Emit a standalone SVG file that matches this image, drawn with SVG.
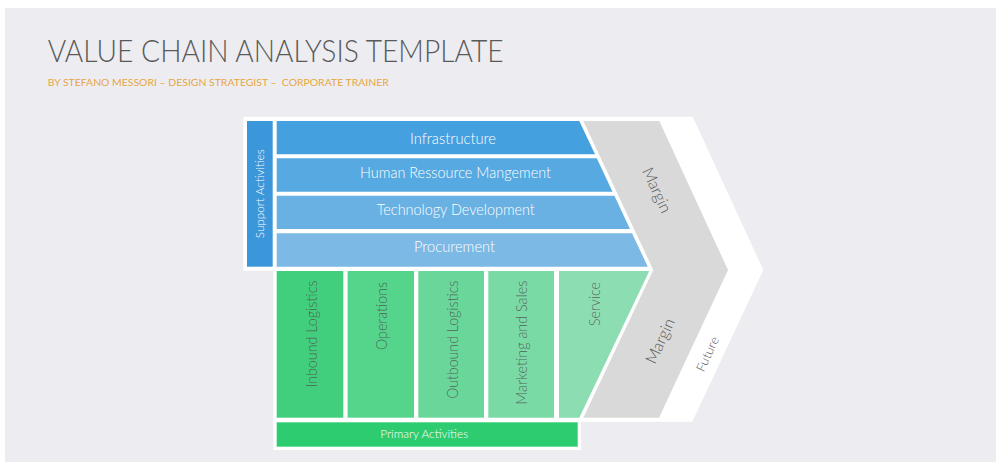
<svg xmlns="http://www.w3.org/2000/svg" width="996" height="462" viewBox="0 0 996 462">
  <style>
    .lbl { font-family: "Lato", "Open Sans", "Liberation Sans", sans-serif; font-weight: 300; }
    .sub { font-weight: 400; }
    .w { fill: #ffffff; }
    .bar { fill: #ffffff; font-size: 15px; text-anchor: middle; }
    .col { fill: #4F4F4F; fill-opacity: 0.85; font-size: 16px; text-anchor: end; }
    .mrg { fill: #595959; text-anchor: middle; }
  </style>

  <!-- page -->
  <rect x="0" y="0" width="996" height="462" fill="#ffffff"/>
  <rect x="5" y="8" width="991" height="454" fill="#EDEDF1"/>

  <!-- heading -->
  <g id="title">
    <text class="lbl" x="47.7" y="62.3" font-size="31" fill="#595959" textLength="456" lengthAdjust="spacingAndGlyphs">VALUE CHAIN ANALYSIS TEMPLATE</text>
    <text class="lbl sub" x="47.7" y="86.3" font-size="10" fill="#E8A540" xml:space="preserve" textLength="341" lengthAdjust="spacingAndGlyphs">BY STEFANO MESSORI – DESIGN STRATEGIST –  CORPORATE TRAINER</text>
  </g>

  <!-- white backdrop with outer "Future" chevron -->
  <g id="future">
    <path class="w" d="M243.3,116.7 H692.7 L763.3,270 L692.3,421.7 H581 V450 H273.3 V270.7 H243.3 Z"/>
    <text class="lbl mrg" font-size="12.5" transform="translate(707.5,354) rotate(-65)" x="0" y="4.4" textLength="37" lengthAdjust="spacingAndGlyphs">Future</text>
  </g>

  <!-- inner "Margin" chevron -->
  <g id="margin">
    <polygon points="583.3,121 659.3,121 728,270 659,417.7 583.3,417.7 653.3,270" fill="#D9D9D9"/>
    <text class="lbl mrg" font-size="16" transform="translate(657,190) rotate(65)" x="0" y="5.6" textLength="48" lengthAdjust="spacingAndGlyphs">Margin</text>
    <text class="lbl mrg" font-size="16" transform="translate(660,341) rotate(-65)" x="0" y="5.6" textLength="48" lengthAdjust="spacingAndGlyphs">Margin</text>
  </g>

  <!-- support activities -->
  <g id="support-activities">
    <rect x="247" y="121" width="25.7" height="145.7" fill="#3B97DA"/>
    <text class="lbl" fill="#ffffff" font-size="12" text-anchor="middle" transform="translate(264.3,193.7) rotate(-90)" textLength="89" lengthAdjust="spacingAndGlyphs">Support Activities</text>
  </g>

  <g id="infrastructure">
    <polygon points="276.7,121 579.3,121 595,154.3 276.7,154.3" fill="#45A0DF"/>
    <text class="lbl bar" x="453" y="144" textLength="86" lengthAdjust="spacingAndGlyphs">Infrastructure</text>
  </g>

  <g id="human-resource-management">
    <polygon points="276.7,158.3 596.8,158.3 612.5,191.7 276.7,191.7" fill="#56A9E1"/>
    <text class="lbl bar" x="455.5" y="178.3" textLength="191" lengthAdjust="spacingAndGlyphs">Human Ressource Mangement</text>
  </g>

  <g id="technology-development">
    <polygon points="276.7,195.7 614.4,195.7 630,229 276.7,229" fill="#69B1E3"/>
    <text class="lbl bar" x="455.8" y="215" textLength="158" lengthAdjust="spacingAndGlyphs">Technology Development</text>
  </g>

  <g id="procurement">
    <polygon points="276.7,233.3 632,233.3 647.8,266.7 276.7,266.7" fill="#7DB9E5"/>
    <text class="lbl bar" x="454.5" y="251.7" textLength="81" lengthAdjust="spacingAndGlyphs">Procurement</text>
  </g>

  <!-- primary activities -->
  <g id="inbound-logistics">
    <rect x="276.7" y="271" width="66.6" height="146.7" fill="#42CF7D"/>
    <text class="lbl col" transform="translate(316.5,280.5) rotate(-90)" textLength="107" lengthAdjust="spacingAndGlyphs">Inbound Logistics</text>
  </g>

  <g id="operations">
    <rect x="347.6" y="271" width="66.4" height="146.7" fill="#55D48C"/>
    <text class="lbl col" transform="translate(386.5,282) rotate(-90)" textLength="68" lengthAdjust="spacingAndGlyphs">Operations</text>
  </g>

  <g id="outbound-logistics">
    <rect x="418.3" y="271" width="65.7" height="146.7" fill="#68D799"/>
    <text class="lbl col" transform="translate(457.5,280.7) rotate(-90)" textLength="118" lengthAdjust="spacingAndGlyphs">Outbound Logistics</text>
  </g>

  <g id="marketing-and-sales">
    <rect x="488.3" y="271" width="65.7" height="146.7" fill="#7ADAA6"/>
    <text class="lbl col" transform="translate(527.3,280.7) rotate(-90)" textLength="124" lengthAdjust="spacingAndGlyphs">Marketing and Sales</text>
  </g>

  <g id="service">
    <polygon points="559,271 649.3,271 579.3,417.7 559,417.7" fill="#8CDEB2"/>
    <text class="lbl col" transform="translate(600.3,282) rotate(-90)" textLength="44" lengthAdjust="spacingAndGlyphs">Service</text>
  </g>

  <g id="primary-activities">
    <rect x="276.7" y="422.3" width="301" height="24.4" fill="#2ECC71"/>
    <text class="lbl" fill="#ffffff" font-size="11.5" text-anchor="middle" x="424.2" y="437.6" textLength="88" lengthAdjust="spacingAndGlyphs">Primary Activities</text>
  </g>
</svg>
